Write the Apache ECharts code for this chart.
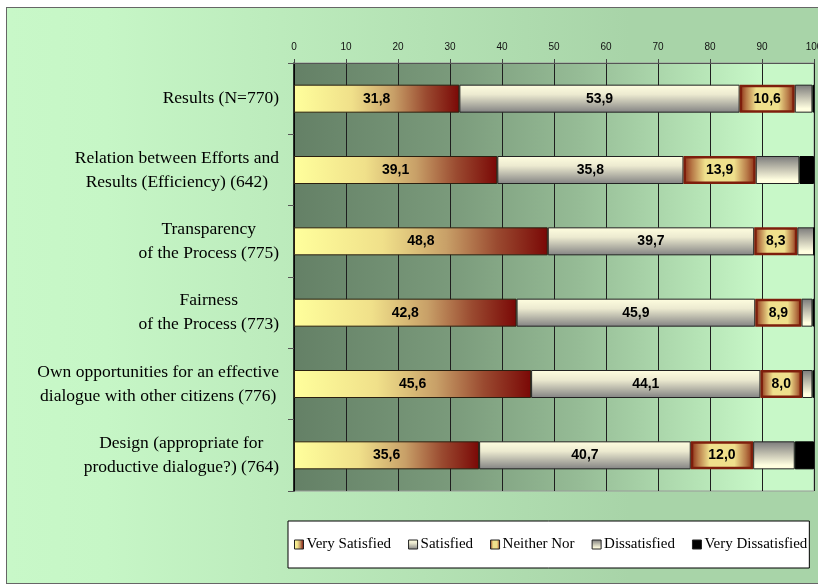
<!DOCTYPE html>
<html>
<head>
<meta charset="utf-8">
<script src="https://cdn.jsdelivr.net/npm/echarts@6/dist/echarts.min.js"></script>
<style>
  html, body { margin: 0; padding: 0; background: #fff; overflow: hidden; width: 818px; height: 586px; }
  #frame {
    position: absolute; left: 6px; top: 7px; width: 830px; height: 575px;
    border: 1px solid #666;
    background: linear-gradient(to right, #c8f8c8 0%, #c6f6c6 12%, #b4e2b4 50%, #a8d4a8 75%, #a8d4a8 100%);
  }
  #main { width: 830px; height: 575px; }
</style>
</head>
<body>
<div id="frame"><div id="main"></div></div>
<script>
// categories (top to bottom)
var categories = [
  'Results (N=770)',
  'Relation between Efforts and\nResults (Efficiency) (642)',
  'Transparency\nof the Process (775)',
  'Fairness\nof the Process (773)',
  'Own opportunities for an effective\ndialogue with other citizens (776)',
  'Design (appropriate for\nproductive dialogue?) (764)'
];
var verySatisfied    = [31.8, 39.1, 48.8, 42.8, 45.6, 35.6];
var satisfied        = [53.9, 35.8, 39.7, 45.9, 44.1, 40.7];
var neitherNor       = [10.6, 13.9,  8.3,  8.9,  8.0, 12.0];
var dissatisfied     = [ 3.4,  8.4,  3.2,  2.1,  2.0,  8.0];
var veryDissatisfied = [ 0.3,  2.8,  0.0,  0.3,  0.3,  3.7];
var xTicks = [0, 10, 20, 30, 40, 50, 60, 70, 80, 90, 100];

var chart = echarts.init(document.getElementById('main'), null, { renderer: 'canvas' });

function lin(x2, y2, stops) {
  return new echarts.graphic.LinearGradient(0, 0, x2, y2, stops.map(function (s) {
    return { offset: s[0], color: s[1] };
  }));
}

var valueLabel = {
  show: true,
  position: 'inside',
  color: '#000',
  fontFamily: 'Liberation Sans, Arial, sans-serif',
  fontWeight: 'bold',
  fontSize: 14,
  formatter: function (p) { return p.value.toFixed(1).replace('.', ','); }
};

function bar(name, data, itemStyle, label) {
  return {
    name: name,
    type: 'bar',
    stack: 'total',
    barWidth: 28,
    data: data,
    itemStyle: itemStyle,
    label: label || { show: false },
    emphasis: { disabled: true },
    animation: false
  };
}

var option = {
  animation: false,
  textStyle: { fontFamily: 'Liberation Serif, Times New Roman, serif' },
  grid: {
    left: 287, top: 55, width: 520, height: 428,
    show: true,
    borderColor: '#9a9a9a',
    borderWidth: 1,
    backgroundColor: lin(1, 0, [[0, '#648066'], [0.3, '#7a9a7b'], [0.55, '#96bc96'], [0.78, '#b6e4b6'], [0.9, '#c8f8c8'], [1, '#c8f8c8']])
  },
  xAxis: {
    type: 'value',
    position: 'top',
    min: 0, max: 100, interval: 10,
    axisLine: { show: true, lineStyle: { color: '#555', width: 1 } },
    axisTick: { show: true, length: 4, lineStyle: { color: '#444' } },
    axisLabel: {
      margin: 11,
      color: '#111',
      fontFamily: 'Liberation Sans, Arial, sans-serif',
      fontSize: 10,
      formatter: function (v) { return xTicks.indexOf(v) >= 0 ? String(v) : ''; }
    },
    splitLine: { show: true, lineStyle: { color: '#1e1e1e', width: 1 } }
  },
  yAxis: {
    type: 'category',
    inverse: true,
    data: categories,
    axisLine: { show: true, lineStyle: { color: '#000', width: 1.5 } },
    axisTick: { show: true, length: 6, lineStyle: { color: '#555' } },
    axisLabel: {
      margin: 15,
      color: '#000',
      fontSize: 17.5,
      lineHeight: 24,
      formatter: function (v) {
        return v.split('\n').map(function (l) { return '{c|' + l + '}'; }).join('\n');
      },
      rich: {
        c: { align: 'center', fontSize: 17.5, lineHeight: 24, color: '#000',
             fontFamily: 'Liberation Serif, Times New Roman, serif' }
      }
    },
    splitLine: { show: false }
  },
  legend: {
    left: 281, top: 513,
    orient: 'horizontal',
    backgroundColor: '#fff',
    borderColor: '#000',
    borderWidth: 1,
    padding: [16, 2, 16, 6],
    itemGap: 17,
    itemWidth: 9,
    itemHeight: 9,
    icon: 'rect',
    itemStyle: { borderWidth: 1, borderColor: '#222' },
    textStyle: { fontSize: 15, color: '#000', fontFamily: 'Liberation Serif, Times New Roman, serif', padding: [0, 0, 0, -2] },
    data: ['Very Satisfied', 'Satisfied', 'Neither Nor', 'Dissatisfied', 'Very Dissatisfied']
  },
  series: [
    bar('Very Satisfied', verySatisfied, {
      color: lin(1, 0, [[0, '#ffff9c'], [0.35, '#f0e08a'], [0.6, '#c8a068'], [0.8, '#9a4a30'], [1, '#7a0806']]),
      borderColor: '#2a2010', borderWidth: 1
    }, valueLabel),
    bar('Satisfied', satisfied, {
      color: lin(0, 1, [[0, '#fffee0'], [0.35, '#ecead0'], [1, '#828282']]),
      borderColor: '#222', borderWidth: 1
    }, valueLabel),
    bar('Neither Nor', neitherNor, {
      color: lin(1, 0, [[0, '#8a2a12'], [0.12, '#b87a48'], [0.3, '#efe08c'], [0.7, '#efe08c'], [0.88, '#b87a48'], [1, '#8a2a12']]),
      borderColor: '#7e1e0c', borderWidth: 2.5
    }, valueLabel),
    bar('Dissatisfied', dissatisfied, {
      color: lin(0, 1, [[0, '#7a7a7a'], [0.5, '#cac8b6'], [0.85, '#fffee0'], [1, '#fffee0']]),
      borderColor: '#222', borderWidth: 1
    }),
    bar('Very Dissatisfied', veryDissatisfied, {
      color: '#000',
      borderColor: '#000', borderWidth: 1
    })
  ]
};

chart.setOption(option);
</script>
</body>
</html>
